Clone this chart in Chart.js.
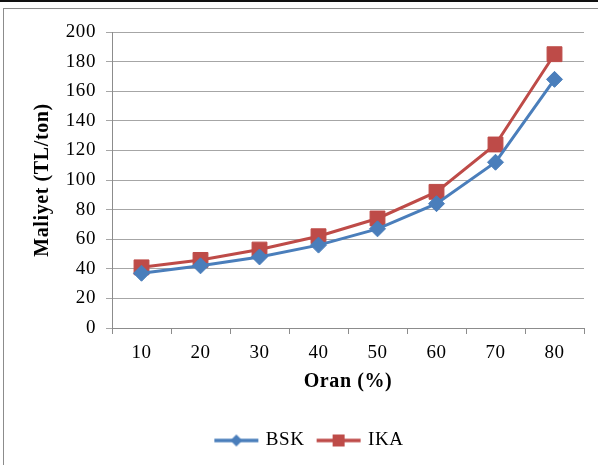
<!DOCTYPE html>
<html>
<head>
<meta charset="utf-8">
<script src="https://cdn.jsdelivr.net/npm/chart.js@4/dist/chart.umd.min.js"></script>
<style>
  html, body { margin: 0; padding: 0; background: #fff; overflow: hidden; }
  #wrap { position: relative; width: 598px; height: 465px; overflow: hidden; }
  #topline { position: absolute; left: 0; top: 0; width: 598px; height: 2px; background: #111; }
  #frame { position: absolute; left: 3px; top: 8px; width: 620px; height: 480px; border: 1.5px solid #8c8c8c; }
  #chart { position: absolute; left: 0; top: 0; }
</style>
</head>
<body>
<div id="wrap">
  <div id="topline"></div>
  <div id="frame"></div>
  <canvas id="chart" width="598" height="465"></canvas>
</div>
<script>
// Oran (%) categories
const categories = ['10', '20', '30', '40', '50', '60', '70', '80'];
// Maliyet (TL/ton) per series
const bskValues = [37, 42, 48, 56, 67, 84, 112, 168];
const ikaValues = [41, 46, 53, 62, 74, 92, 124, 185];
// value axis range
const yMin = 0;
const yMax = 200;
const yStep = 20;

const BLUE = '#4a7ebb';
const RED = '#be4b48';
const FONT = "'Liberation Serif', 'Times New Roman', serif";
const SPACING = '0.6px';
const LEGEND_SHIFT = 18;

// legend glyph: short line with the series marker in the middle
function legendGlyph(color, shape) {
  const c = document.createElement('canvas');
  c.width = 48; c.height = 16;
  const g = c.getContext('2d');
  g.strokeStyle = color;
  g.lineWidth = 3.5;
  g.beginPath(); g.moveTo(2, 8); g.lineTo(46, 8); g.stroke();
  g.fillStyle = color;
  if (shape === 'diamond') {
    g.beginPath();
    g.moveTo(24, 2); g.lineTo(30, 8); g.lineTo(24, 14); g.lineTo(18, 8);
    g.closePath(); g.fill();
  } else {
    g.fillRect(18, 2, 12, 12);
  }
  return c;
}
const glyphs = [legendGlyph(BLUE, 'diamond'), legendGlyph(RED, 'square')];

const spacingPlugin = {
  id: 'letterSpacing',
  beforeLayout(chart) { chart.ctx.letterSpacing = SPACING; },
  beforeDraw(chart) { chart.ctx.letterSpacing = SPACING; },
  afterLayout(chart) {
    // legend sits a little right of the canvas centre
    if (chart.legend) {
      chart.legend.left += LEGEND_SHIFT;
      chart.legend.right += LEGEND_SHIFT;
    }
  }
};

new Chart(document.getElementById('chart'), {
  type: 'line',
  data: {
    labels: categories,
    datasets: [
      {
        label: 'BSK',
        data: bskValues,
        borderColor: BLUE,
        backgroundColor: BLUE,
        borderWidth: 3,
        pointStyle: 'rectRot',
        pointRadius: 8,
        pointBorderWidth: 1,
        tension: 0
      },
      {
        label: 'IKA',
        data: ikaValues,
        borderColor: RED,
        backgroundColor: RED,
        borderWidth: 3,
        pointStyle: 'rect',
        pointRadius: 10.5,
        pointBorderWidth: 1,
        tension: 0
      }
    ]
  },
  plugins: [spacingPlugin],
  options: {
    responsive: false,
    animation: false,
    devicePixelRatio: 1,
    layout: { padding: { left: 0, right: 14, top: 32, bottom: 5 } },
    plugins: {
      tooltip: { enabled: false },
      legend: {
        position: 'bottom',
        labels: {
          usePointStyle: true,
          pointStyleWidth: 40,
          padding: 14,
          color: '#000',
          font: { family: FONT, size: 19 },
          generateLabels(chart) {
            const items = Chart.defaults.plugins.legend.labels.generateLabels(chart);
            items.forEach((it, i) => { it.pointStyle = glyphs[i]; });
            return items;
          }
        }
      }
    },
    scales: {
      x: {
        type: 'category',
        offset: true,
        grid: { offset: true, drawOnChartArea: false, drawTicks: true, tickLength: 6, color: '#8c8c8c' },
        border: { color: '#8c8c8c', width: 1 },
        ticks: { padding: 8, color: '#000', font: { family: FONT, size: 19 } },
        title: {
          display: true,
          text: 'Oran (%)',
          color: '#000',
          font: { family: FONT, size: 20, weight: 'bold' },
          padding: { top: 0, bottom: 23 }
        },
        afterFit(scale) { scale.height = 89; }
      },
      y: {
        min: yMin,
        max: yMax,
        ticks: { stepSize: yStep, padding: 10, color: '#000', font: { family: FONT, size: 19 } },
        grid: { color: '#a6a6a6', tickLength: 6, drawTicks: true },
        border: { color: '#8c8c8c', width: 1 },
        title: {
          display: true,
          text: 'Maliyet (TL/ton)',
          color: '#000',
          font: { family: FONT, size: 20, weight: 'bold' },
          padding: { top: 31, bottom: 0 }
        },
        afterFit(scale) { scale.width = 112; }
      }
    }
  }
});
</script>
</body>
</html>
